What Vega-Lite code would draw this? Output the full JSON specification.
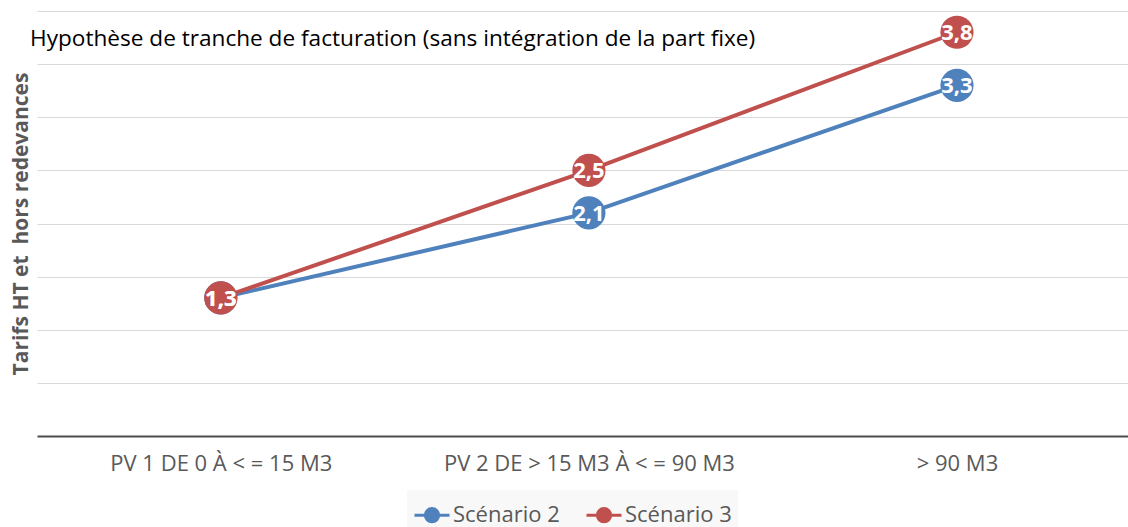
{
  "$schema": "https://vega.github.io/schema/vega-lite/v6.json",
  "width": 1091,
  "height": 425,
  "autosize": {"type": "none"},
  "padding": {"left": 37, "top": 11, "right": 0, "bottom": 91},
  "background": "white",
  "title": {
    "text": "Hypothèse de tranche de facturation (sans intégration de la part fixe)",
    "anchor": "start",
    "frame": "group",
    "orient": "top",
    "offset": -40,
    "dx": -7,
    "font": "Open Sans",
    "fontSize": 22.6,
    "fontWeight": "normal",
    "color": "#000000"
  },
  "data": {
    "values": [
      {"tranche": "PV 1 DE 0 À < = 15 M3", "scenario": "Scénario 2", "tarif": 1.3},
      {"tranche": "PV 2 DE > 15 M3 À < = 90 M3", "scenario": "Scénario 2", "tarif": 2.1},
      {"tranche": "> 90 M3", "scenario": "Scénario 2", "tarif": 3.3},
      {"tranche": "PV 1 DE 0 À < = 15 M3", "scenario": "Scénario 3", "tarif": 1.3},
      {"tranche": "PV 2 DE > 15 M3 À < = 90 M3", "scenario": "Scénario 3", "tarif": 2.5},
      {"tranche": "> 90 M3", "scenario": "Scénario 3", "tarif": 3.8}
    ]
  },
  "encoding": {
    "x": {
      "field": "tranche",
      "type": "nominal",
      "sort": null,
      "scale": {"type": "point", "padding": 0.482, "align": 0.518},
      "axis": {
        "title": null,
        "labelAngle": 0,
        "ticks": false,
        "grid": false,
        "domainColor": "#4d4d4d",
        "domainWidth": 2,
        "labelFont": "Open Sans",
        "labelFontSize": 22,
        "labelColor": "#595959",
        "labelPadding": 17,
        "labelLimit": 0
      }
    },
    "y": {
      "field": "tarif",
      "type": "quantitative",
      "scale": {"domain": [0, 4], "nice": false},
      "axis": {
        "values": [0.5, 1, 1.5, 2, 2.5, 3, 3.5, 4],
        "labels": false,
        "ticks": false,
        "domain": false,
        "grid": true,
        "gridColor": "#d9d9d9",
        "gridWidth": 1,
        "title": "Tarifs HT et\u00a0 hors redevances",
        "titleFont": "Open Sans",
        "titleFontSize": 21,
        "titleFontWeight": "bold",
        "titleColor": "#595959",
        "titlePadding": 6
      }
    },
    "color": {
      "field": "scenario",
      "type": "nominal",
      "scale": {"domain": ["Scénario 2", "Scénario 3"], "range": ["#4f81bd", "#c0504d"]},
      "legend": {
        "title": null,
        "orient": "none",
        "direction": "horizontal",
        "legendX": 370,
        "legendY": 479,
        "fillColor": "#f8f8f8",
        "padding": 6,
        "symbolType": "M-1,0H1M-0.38,0A0.38,0.38 0 1,1 0.38,0A0.38,0.38 0 1,1 -0.38,0",
        "symbolSize": 1225,
        "symbolStrokeWidth": 3,
        "labelFont": "Open Sans",
        "labelFontSize": 22,
        "labelColor": "#595959",
        "labelOffset": 2,
        "labelLimit": 0,
        "columnPadding": 20
      }
    }
  },
  "layer": [
    {"mark": {"type": "line", "strokeWidth": 4}, "encoding": {"detail": {"field": "scenario"}}},
    {"mark": {"type": "circle", "size": 1100, "opacity": 1}},
    {
      "mark": {"type": "text", "color": "white", "font": "Open Sans", "fontSize": 22, "fontWeight": "bold", "baseline": "middle", "align": "center", "dy": 1},
      "encoding": {
        "text": {"field": "tarif", "type": "quantitative", "format": ".1f"},
        "color": {"value": "white"}
      }
    }
  ],
  "config": {
    "view": {"stroke": null},
    "locale": {"number": {"decimal": ",", "thousands": " ", "grouping": [3], "currency": ["", " €"]}}
  }
}
